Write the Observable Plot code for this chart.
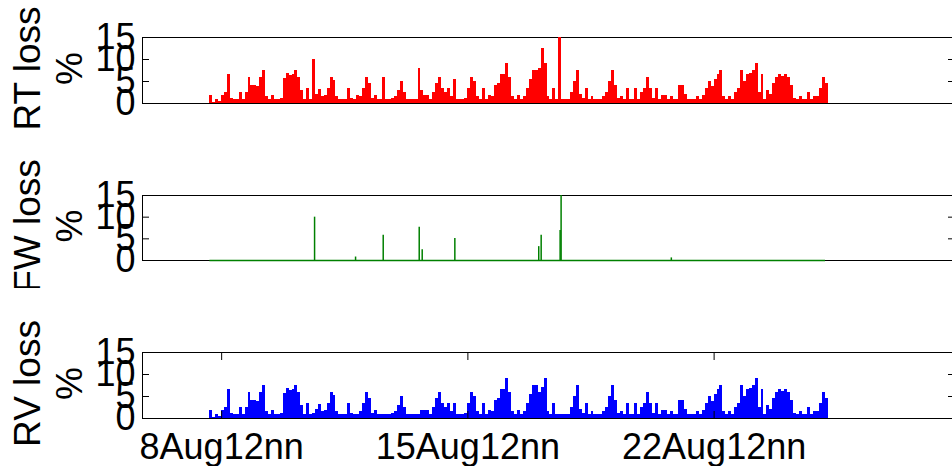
<!DOCTYPE html>
<html><head><meta charset="utf-8">
<script src="https://cdn.jsdelivr.net/npm/d3@7"></script>
<script src="https://cdn.jsdelivr.net/npm/@observablehq/plot@0.6"></script>
<style>
body{margin:0;background:#fff;}
#chart{position:relative;width:952px;height:466px;overflow:hidden;font-family:"Liberation Sans",Arial,sans-serif;}
#chart svg{position:absolute;left:0;}
</style></head><body><div id="chart"></div>
<script>
// sampling of the loss series (2-hour bins)
const sampleStart = "2012-08-08T04:00:00Z";
const sampleStepHours = 2;

const rvValues = [
1.8,0.3,0.8,0.5,1.8,2.6,6.6,1.2,1,0.8,
2.6,1,2.6,5.8,4.2,4.2,3.8,5.8,7.5,1.5,
1,1.8,0.8,1,1.2,5.6,6.9,6.3,6.5,7.5,
5.8,3,1,3.3,1,1.2,2,3.2,1.5,1.8,
3.5,5.8,5.2,1.5,1,0.8,1,3.3,1.2,1,
1,1.5,3.5,5.8,4.5,1.2,1.8,0.8,1,0.8,
1,0.8,1.2,1.5,3,5,2.5,1,0.8,1,
1,0.8,1.8,1.8,1.8,1,2.5,4.5,5.8,3.3,
2.5,3.3,1.5,3.3,1,0.8,1,1.2,3.5,5.8,
5,1.5,1,3.3,1,1.8,1.5,4,4.5,6.7,
6.5,9,6,1.5,1,1.8,1,1.5,3.3,5.5,
7.5,7.5,6,7,9.2,1.5,1,3.3,1,0.8,
1,1,1,2.5,5,7.5,2,1.2,3.3,1,
1.5,1,0.8,1,1.5,2.5,5,7.5,4,1.2,
1.5,1,3.3,1,1,3.3,1,2.5,3.5,5.8,
3.5,1.2,3.3,0.8,1.8,1.8,0.8,1.5,0.8,1,
4.2,4.2,2,0.8,1,0.8,1.5,1,1.8,3.3,
5,3.8,5.5,6.6,7.5,1.5,0.8,1.5,1,2.5,
3.5,7.5,5,6.5,6.8,7.5,9.2,2.5,6.7,1,
3,2,4.5,5.8,6.5,6.2,6.6,6,4,1.2,
1,1.5,0.8,1,2.5,1,1.5,1.5,3.5,5.8,4.5
];

const rtValues = [
1.8,0.3,0.8,0.5,1.8,2.6,6.6,1.2,1,0.8,
2.6,1,2.6,5.8,4.2,4.2,3.8,5.8,7.5,1.5,
1,1.8,0.8,1,1.2,5.6,6.9,6.3,6.5,7.5,
5.8,3,1,3.3,1,10,2,3.2,1.5,1.8,
3.5,5.8,5.2,1.5,1,0.8,1,3.3,1.2,1,
1.8,1.5,3.5,5.8,4.5,1.2,1.8,0.8,1,6,
1,0.8,1.2,1.5,3,5,2.5,1,0.8,1,
1,8,3,1.8,1.8,1,2.5,4.5,5.8,3.3,
2.5,3.3,1.5,5.5,1,0.8,1,1.2,3.5,5.8,
5,1.5,1,3.3,1,1.8,1.5,4,4.5,6.7,
6.5,9,6,1.5,1,1.8,1,1.5,3.3,5.5,
7.5,7.5,8,12.6,9.2,1.5,1,3.3,1,15,
1,1,1,2.5,5,7.5,2,1.2,3.3,1,
1.5,1,0.8,1,1.5,2.5,5,7.5,4,1.2,
1.5,1,3.3,1,1,3.3,1,2.5,3.5,5.8,
3.5,1.2,3.3,0.8,1.8,1.8,0.8,1.5,0.8,1,
4.2,4.2,2,0.8,1,0.8,1.5,1,1.8,3.3,
5,3.8,5.5,6.6,7.5,1.5,0.8,1.5,1,2.5,
3.5,7.5,5,6.5,6.8,7.5,9.2,2.5,6.7,1,
3,2,4.5,5.8,6.5,6.2,6.6,6,4,1.2,
1,1.5,0.8,1,2.5,1,1.5,1.5,3.5,5.8,4.5
];

// forward loss: zero except isolated spikes
const fwStart = "2012-08-08T04:00:00Z";
const fwEnd = "2012-08-25T16:00:00Z";
const fwSpikeTimes = [
"2012-08-11T03:24:00Z","2012-08-12T07:22:00Z","2012-08-13T02:14:00Z","2012-08-14T02:48:00Z",
"2012-08-14T04:50:00Z","2012-08-15T03:06:00Z","2012-08-17T12:20:00Z","2012-08-17T14:00:00Z",
"2012-08-18T02:56:00Z","2012-08-18T03:36:00Z","2012-08-21T06:48:00Z"
];
const fwSpikeValues = [10,0.8,5.8,7.7,2.5,5.1,3.2,5.8,6.9,15,0.6];

const xDomain = ["2012-08-06T06:00:00Z","2012-08-29T08:00:00Z"];
const xTickDates = ["2012-08-08T12:00:00Z","2012-08-15T12:00:00Z","2012-08-22T12:00:00Z"];
const xTickLabels = ["8Aug12nn","15Aug12nn","22Aug12nn"];
const yTicks = [0,5,10,15];
const panelLabels = ["RT loss\n%","FW loss\n%","RV loss\n%"];

const FONT = '"Liberation Sans", Arial, Helvetica, sans-serif';
const t0 = new Date(sampleStart);
const toRows = vals => vals.map((v, i) => ({
  t1: new Date(+t0 + i * sampleStepHours * 3600e3),
  t2: new Date(+t0 + (i + 1) * sampleStepHours * 3600e3),
  v
}));
const fwRows = fwSpikeTimes.map((t, i) => ({t: new Date(t), v: fwSpikeValues[i]}));
const tickDates = xTickDates.map(d => new Date(d));

function panel({label, marks, top, height, marginBottom, xAxis}) {
  const p = Plot.plot({
    width: 952, height, marginTop: 37, marginBottom, marginLeft: 142, marginRight: -2,
    style: {fontFamily: FONT, fontSize: "36px", background: "transparent", overflow: "hidden", color: "black"},
    x: {type: "utc", domain: xDomain.map(d => new Date(d)), axis: xAxis ? undefined : null},
    y: {domain: [0, 15]},
    marks: [
      Plot.frame({stroke: "black", strokeWidth: 1}),
      ...marks,
      Plot.axisY(yTicks, {anchor: "left", tickSize: -7, tickPadding: 14, label: null, fontSize: 36}),
      Plot.axisY(yTicks, {anchor: "right", tickSize: -7, tickFormat: () => "", label: null}),
      ...(xAxis ? [
        Plot.axisX(tickDates, {anchor: "top", tickSize: -7, tickFormat: () => "", label: null}),
        Plot.axisX(tickDates, {anchor: "bottom", tickSize: -7, tickPadding: 22, label: null, fontSize: 36,
          tickFormat: d => xTickLabels[tickDates.findIndex(t => +t === +d)]})
      ] : []),
      Plot.text([label], {text: d => d, frameAnchor: "left", dx: -95, dy: -2, rotate: -90, textAnchor: "middle",
        lineAnchor: "middle", lineHeight: 1.15, fontSize: 37, fill: "black"})
    ]
  });
  p.style.top = top + "px";
  document.getElementById("chart").appendChild(p);
}

panel({label: panelLabels[0], top: 0, height: 130, marginBottom: 27, xAxis: false, marks: [
  Plot.rectY(toRows(rtValues), {x1: "t1", x2: "t2", y: "v", fill: "#ff0000", shapeRendering: "crispEdges"})
]});
panel({label: panelLabels[1], top: 158, height: 130, marginBottom: 28, xAxis: false, marks: [
  Plot.ruleY([0], {x1: () => new Date(fwStart), x2: () => new Date(fwEnd), stroke: "#008000", strokeWidth: 1.5}),
  Plot.ruleX(fwRows, {x: "t", y1: 0, y2: "v", stroke: "#008000", strokeWidth: 1.5})
]});
panel({label: panelLabels[2], top: 315, height: 151, marginBottom: 48, xAxis: true, marks: [
  Plot.rectY(toRows(rvValues), {x1: "t1", x2: "t2", y: "v", fill: "#0000ff", shapeRendering: "crispEdges"})
]});
</script></body></html>
